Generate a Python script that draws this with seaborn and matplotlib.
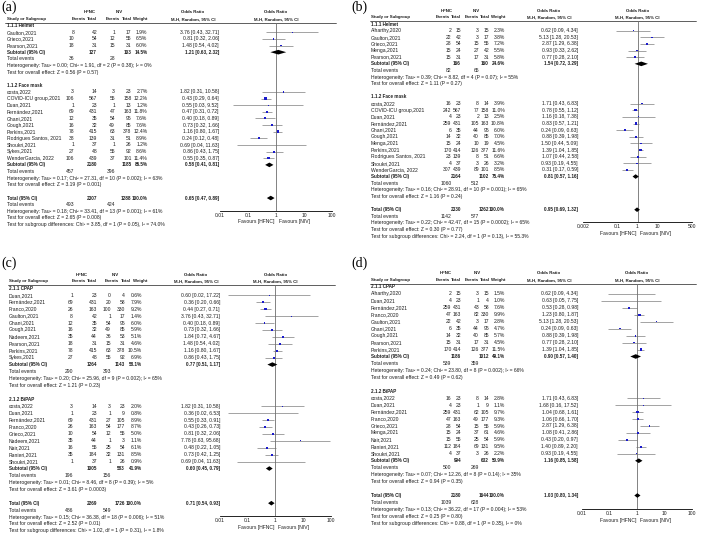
import matplotlib
matplotlib.use("Agg")
import matplotlib.pyplot as plt
import numpy as np
import pandas as pd
import seaborn as sns
from matplotlib.ticker import NullLocator

# ---------------- panel (a) ----------------
a_study = ["Gaulton,2021", "Grieco,2021", "Pearson,2021", "costa,2022", "COVID-ICU group,2021",
           "Duan,2021", "Fernández,2021", "Ghani,2021", "Gough,2021", "Perkins,2021",
           "Rodrigues Santos, 2021", "Shoukri,2021", "Sykes,2021", "WenderGarcia, 2022"]
a_group = ["1.1.1 Helmet"] * 3 + ["1.1.2 Face mask"] * 11
a_hfnc_ev = [8, 10, 18, 3, 106, 1, 69, 12, 16, 78, 38, 1, 27, 106]
a_hfnc_n = [42, 54, 31, 14, 567, 23, 431, 35, 32, 415, 139, 37, 48, 439]
a_niv_ev = [1, 12, 15, 3, 55, 1, 47, 54, 49, 63, 31, 1, 55, 37]
a_niv_n = [17, 55, 31, 23, 158, 13, 163, 95, 85, 378, 51, 26, 92, 101]
a_weight = [1.9, 6.5, 6.0, 2.7, 12.2, 1.2, 11.8, 7.6, 7.6, 12.4, 8.9, 1.2, 8.6, 11.4]
a_or = [3.76, 0.81, 1.48, 1.82, 0.43, 0.55, 0.47, 0.40, 0.73, 1.16, 0.24, 0.69, 0.86, 0.55]
a_lo = [0.43, 0.32, 0.54, 0.31, 0.29, 0.03, 0.31, 0.18, 0.32, 0.80, 0.12, 0.04, 0.43, 0.35]
a_hi = [32.71, 2.06, 4.02, 10.58, 0.64, 9.52, 0.72, 0.89, 1.66, 1.67, 0.48, 11.63, 1.75, 0.87]
a_sub_label = ["1.1.1 Helmet", "1.1.2 Face mask"]
a_sub_n = [(127, 103), (2180, 1185)]
a_sub_ev = [(36, 28), (457, 396)]
a_sub_weight = [14.5, 85.5]
a_sub_or = [(1.21, 0.63, 2.32), (0.58, 0.41, 0.81)]
a_sub_het = ["Heterogeneity: Tau² = 0.00; Chi² = 1.91, df = 2 (P = 0.38); I² = 0%",
             "Heterogeneity: Tau² = 0.17; Chi² = 27.31, df = 10 (P = 0.002); I² = 63%"]
a_sub_z = ["Test for overall effect: Z = 0.56 (P = 0.57)",
           "Test for overall effect: Z = 3.19 (P = 0.001)"]
a_tot_n = (2307, 1288)
a_tot_ev = (493, 424)
a_tot_or = (0.65, 0.47, 0.89)
a_tot_text = ["Heterogeneity: Tau² = 0.18; Chi² = 33.41, df = 13 (P = 0.001); I² = 61%",
              "Test for overall effect: Z = 2.65 (P = 0.008)",
              "Test for subgroup differences: Chi² = 3.85, df = 1 (P = 0.05), I² = 74.0%"]

# ---------------- panel (b) ----------------
b_study = ["Alharthy,2020", "Gaulton,2021", "Grieco,2021", "Menga,2021", "Pearson,2021",
           "costa,2022", "COVID-ICU group,2021", "Duan,2021", "Fernández,2021", "Ghani,2021",
           "Gough,2021", "Menga,2021", "Perkins,2021", "Rodrigues Santos, 2021", "Shoukri,2021",
           "WenderGarcia, 2022"]
b_group = ["1.1.1 Helmet"] * 5 + ["1.1.2 Face mask"] * 11
b_hfnc_ev = [2, 22, 28, 15, 15, 16, 242, 4, 259, 6, 14, 15, 170, 23, 4, 307]
b_hfnc_n = [15, 42, 54, 24, 31, 23, 567, 23, 431, 35, 32, 24, 414, 139, 37, 439]
b_niv_ev = [3, 3, 15, 27, 17, 8, 77, 2, 105, 44, 40, 10, 126, 8, 3, 89]
b_niv_n = [15, 17, 55, 42, 31, 14, 158, 13, 163, 95, 85, 19, 377, 51, 26, 101]
b_weight = [2.3, 3.8, 7.2, 5.5, 5.8, 3.9, 11.0, 2.5, 10.8, 6.0, 7.0, 4.5, 11.6, 6.6, 3.2, 8.5]
b_or = [0.62, 5.13, 2.87, 0.93, 0.77, 1.71, 0.78, 1.16, 0.83, 0.24, 0.88, 1.50, 1.39, 1.07, 0.93, 0.31]
b_lo = [0.09, 1.28, 1.29, 0.33, 0.28, 0.43, 0.55, 0.18, 0.57, 0.09, 0.39, 0.44, 1.04, 0.44, 0.19, 0.17]
b_hi = [4.34, 20.53, 6.38, 2.62, 2.10, 6.83, 1.12, 7.38, 1.21, 0.63, 1.98, 5.09, 1.85, 2.58, 4.55, 0.59]
b_sub_label = ["1.1.1 Helmet", "1.1.2 Face mask"]
b_sub_n = [(166, 160), (2164, 1102)]
b_sub_ev = [(82, 65), (1060, 512)]
b_sub_weight = [24.6, 75.4]
b_sub_or = [(1.54, 0.72, 3.29), (0.81, 0.57, 1.16)]
b_sub_het = ["Heterogeneity: Tau² = 0.39; Chi² = 8.82, df = 4 (P = 0.07); I² = 55%",
             "Heterogeneity: Tau² = 0.16; Chi² = 28.91, df = 10 (P = 0.001); I² = 65%"]
b_sub_z = ["Test for overall effect: Z = 1.11 (P = 0.27)",
           "Test for overall effect: Z = 1.16 (P = 0.24)"]
b_tot_n = (2330, 1262)
b_tot_ev = (1142, 577)
b_tot_or = (0.95, 0.69, 1.32)
b_tot_text = ["Heterogeneity: Tau² = 0.22; Chi² = 42.47, df = 15 (P = 0.0002); I² = 65%",
              "Test for overall effect: Z = 0.30 (P = 0.77)",
              "Test for subgroup differences: Chi² = 2.24, df = 1 (P = 0.13), I² = 55.3%"]

# ---------------- panel (c) ----------------
c_study = ["Duan,2021", "Fernández,2021", "Franco,2020", "Gaulton,2021", "Ghani,2021",
           "Gough,2021", "Nadeem,2021", "Pearson,2021", "Perkins,2021", "Sykes,2021",
           "costa,2022", "Duan,2021", "Fernández,2021", "Franco,2020", "Grieco,2021",
           "Nadeem,2021", "Nair,2021", "Ranieri,2021", "Shoukri,2021"]
c_group = ["2.1.1 CPAP"] * 10 + ["2.1.2 BiPAP"] * 9
c_hfnc_ev = [1, 69, 26, 8, 12, 16, 35, 18, 78, 27, 3, 1, 69, 26, 10, 35, 16, 35, 1]
c_hfnc_n = [23, 431, 163, 42, 35, 32, 44, 31, 415, 48, 14, 23, 431, 163, 54, 44, 55, 184, 37]
c_niv_ev = [0, 20, 100, 1, 54, 49, 36, 15, 63, 55, 3, 1, 27, 54, 12, 1, 25, 32, 1]
c_niv_n = [4, 58, 330, 17, 95, 85, 53, 31, 378, 92, 23, 9, 105, 177, 55, 3, 54, 131, 26]
c_weight = [0.6, 7.9, 9.2, 1.4, 6.0, 5.9, 5.1, 4.6, 10.5, 6.9, 2.0, 0.8, 8.9, 8.7, 5.0, 1.1, 6.1, 8.5, 0.9]
c_or = [0.60, 0.36, 0.44, 3.76, 0.40, 0.73, 1.84, 1.48, 1.16, 0.86,
        1.82, 0.36, 0.55, 0.43, 0.81, 7.78, 0.48, 0.73, 0.69]
c_lo = [0.02, 0.20, 0.27, 0.43, 0.18, 0.32, 0.72, 0.54, 0.80, 0.43,
        0.31, 0.02, 0.33, 0.26, 0.32, 0.63, 0.22, 0.42, 0.04]
c_hi = [17.22, 0.66, 0.71, 32.71, 0.89, 1.66, 4.67, 4.02, 1.67, 1.75,
        10.58, 6.53, 0.91, 0.73, 2.06, 95.68, 1.05, 1.25, 11.63]
c_sub_label = ["2.1.1 CPAP", "2.1.2 BiPAP"]
c_sub_n = [(1264, 1143), (1005, 583)]
c_sub_ev = [(290, 393), (196, 156)]
c_sub_weight = [58.1, 41.9]
c_sub_or = [(0.77, 0.51, 1.17), (0.60, 0.45, 0.79)]
c_sub_het = ["Heterogeneity: Tau² = 0.20; Chi² = 25.96, df = 9 (P = 0.002); I² = 65%",
             "Heterogeneity: Tau² = 0.01; Chi² = 8.46, df = 8 (P = 0.39); I² = 5%"]
c_sub_z = ["Test for overall effect: Z = 1.21 (P = 0.23)",
           "Test for overall effect: Z = 3.61 (P = 0.0003)"]
c_tot_n = (2269, 1726)
c_tot_ev = (486, 549)
c_tot_or = (0.71, 0.54, 0.93)
c_tot_text = ["Heterogeneity: Tau² = 0.15; Chi² = 36.38, df = 18 (P = 0.006); I² = 51%",
              "Test for overall effect: Z = 2.52 (P = 0.01)",
              "Test for subgroup differences: Chi² = 1.02, df = 1 (P = 0.31), I² = 1.8%"]

# ---------------- panel (d) ----------------
d_study = ["Alharthy,2020", "Duan,2021", "Fernández,2021", "Franco,2020", "Gaulton,2021",
           "Ghani,2021", "Gough,2021", "Pearson,2021", "Perkins,2021", "costa,2022",
           "Duan,2021", "Fernández,2021", "Franco,2020", "Grieco,2021", "Menga,2021",
           "Nair,2021", "Ranieri,2021", "Shoukri,2021"]
d_group = ["2.1.1 CPAP"] * 9 + ["2.1.2 BiPAP"] * 9
d_hfnc_ev = [2, 4, 259, 47, 22, 6, 14, 15, 170, 16, 4, 259, 47, 28, 15, 15, 112, 4]
d_hfnc_n = [15, 23, 431, 163, 42, 35, 32, 31, 414, 23, 23, 431, 163, 54, 24, 55, 184, 37]
d_niv_ev = [3, 1, 43, 82, 3, 44, 40, 17, 126, 8, 1, 62, 49, 15, 37, 25, 69, 3]
d_niv_n = [15, 4, 58, 330, 17, 95, 85, 31, 377, 14, 9, 105, 177, 55, 61, 54, 131, 26]
d_weight = [1.5, 1.0, 7.6, 9.9, 2.8, 4.7, 5.7, 4.5, 11.5, 2.8, 1.1, 9.7, 9.3, 5.9, 4.6, 5.9, 9.5, 2.2]
d_or = [0.62, 0.63, 0.53, 1.23, 5.13, 0.24, 0.88, 0.77, 1.39,
        1.71, 1.68, 1.04, 1.06, 2.87, 1.08, 0.43, 1.40, 0.93]
d_lo = [0.09, 0.05, 0.28, 0.80, 1.28, 0.09, 0.39, 0.28, 1.04,
        0.43, 0.16, 0.68, 0.66, 1.29, 0.41, 0.20, 0.89, 0.19]
d_hi = [4.34, 7.75, 0.98, 1.87, 20.53, 0.63, 1.98, 2.10, 1.85,
        6.83, 17.52, 1.61, 1.70, 6.38, 2.86, 0.97, 2.20, 4.55]
d_sub_label = ["2.1.1 CPAP", "2.1.2 BiPAP"]
d_sub_n = [(1186, 1012), (994, 632)]
d_sub_ev = [(539, 359), (500, 269)]
d_sub_weight = [49.1, 50.9]
d_sub_or = [(0.90, 0.57, 1.40), (1.16, 0.85, 1.58)]
d_sub_het = ["Heterogeneity: Tau² = 0.24; Chi² = 23.80, df = 8 (P = 0.002); I² = 66%",
             "Heterogeneity: Tau² = 0.07; Chi² = 12.26, df = 8 (P = 0.14); I² = 35%"]
d_sub_z = ["Test for overall effect: Z = 0.49 (P = 0.62)",
           "Test for overall effect: Z = 0.94 (P = 0.35)"]
d_tot_n = (2180, 1644)
d_tot_ev = (1039, 628)
d_tot_or = (1.03, 0.80, 1.34)
d_tot_text = ["Heterogeneity: Tau² = 0.13; Chi² = 36.22, df = 17 (P = 0.004); I² = 53%",
              "Test for overall effect: Z = 0.25 (P = 0.80)",
              "Test for subgroup differences: Chi² = 0.88, df = 1 (P = 0.35), I² = 0%"]

W, H = 701, 538
FS = 3.6      # body text
FSB = 3.35    # bold rows (subgroups, subtotals, totals)
FSH = 3.15    # column headers
TXT = "#1e1e1e"
SQUARE = "#1a1acc"


def ci_text(est, lo, hi):
    return f"{est:.2f} [{lo:.2f}, {hi:.2f}]"


def draw_panel(fig, bg, letter, studies, subs, total, lay):
    y0, dy = lay["y0"], lay["dy"]
    ry = lambda r: y0 + r * dy
    nx = lay["name_x"]
    cols = lay["num_right"]
    fx0, fx1 = lay["forest"]
    xlo, xhi = lay["xlim"]
    fc = fx0 + (fx1 - fx0) * (0 - np.log10(xlo)) / (np.log10(xhi) - np.log10(xlo))

    def t(x, y, s, ha="left", bold=False, size=None):
        if size is None:
            size = FSB if bold else FS
        bg.text(x, y, s, ha=ha, va="center", fontsize=size, color=TXT,
                weight="bold" if bold else "normal")

    def h(x, y, s, ha="center"):
        t(x, y, s, ha=ha, bold=True, size=FSH)

    bg.text(lay["label"][0], lay["label"][1], letter, family="Liberation Serif",
            fontsize=10, ha="left", va="center", color="black")

    # header
    for name, cx in zip(["HFNC", "NIV"], lay["grp_center"]):
        h(cx, ry(0), name)
    h(lay["ci_center"], ry(0), "Odds Ratio")
    h(fc, ry(0), "Odds Ratio")
    h(nx, ry(1), "Study or Subgroup", ha="left")
    for name, x in zip(["Events", "Total", "Events", "Total", "Weight"], lay["hdr_right"]):
        h(x, ry(1), name, ha="right")
    h(lay["ci_center"], ry(1), "M-H, Random, 95% CI")
    h(fc, ry(1), "M-H, Random, 95% CI")
    uy = ry(1) + 3.5
    bg.plot(lay["under"], [uy, uy], color=TXT, lw=0.5)

    sub_label, sub_n, sub_ev, sub_w, sub_or, sub_het, sub_z = subs
    tot_n, tot_ev, tot_or, tot_text = total

    r = 2
    study_y = []
    diamonds = []
    for gi, g in enumerate(sub_label):
        t(nx, ry(r), g, bold=True)
        r += 1
        for _, s in studies[studies["group"] == g].iterrows():
            y = ry(r)
            t(nx, y, s["study"])
            vals = [s["hfnc_ev"], s["hfnc_n"], s["niv_ev"], s["niv_n"], f"{s['weight']:.1f}%"]
            for v, x in zip(vals, cols):
                t(x, y, str(v), ha="right")
            t(lay["ci_right"], y, ci_text(s["or"], s["lo"], s["hi"]), ha="right")
            study_y.append(y)
            r += 1
        y = ry(r)
        t(nx, y, "Subtotal (95% CI)", bold=True)
        t(cols[1], y, str(sub_n[gi][0]), ha="right", bold=True)
        t(cols[3], y, str(sub_n[gi][1]), ha="right", bold=True)
        t(cols[4], y, f"{sub_w[gi]:.1f}%", ha="right", bold=True)
        t(lay["ci_right"], y, ci_text(*sub_or[gi]), ha="right", bold=True)
        diamonds.append((y,) + tuple(sub_or[gi]))
        r += 1
        t(nx, ry(r), "Total events")
        t(cols[0], ry(r), str(sub_ev[gi][0]), ha="right")
        t(cols[2], ry(r), str(sub_ev[gi][1]), ha="right")
        r += 1
        t(nx, ry(r), sub_het[gi])
        r += 1
        t(nx, ry(r), sub_z[gi])
        r += 2

    total_row = r
    y = ry(r)
    t(nx, y, "Total (95% CI)", bold=True)
    t(cols[1], y, str(tot_n[0]), ha="right", bold=True)
    t(cols[3], y, str(tot_n[1]), ha="right", bold=True)
    t(cols[4], y, "100.0%", ha="right", bold=True)
    t(lay["ci_right"], y, ci_text(*tot_or), ha="right", bold=True)
    diamonds.append((y,) + tuple(tot_or))
    r += 1
    t(nx, ry(r), "Total events")
    t(cols[0], ry(r), str(tot_ev[0]), ha="right")
    t(cols[2], ry(r), str(tot_ev[1]), ha="right")
    for line in tot_text:
        r += 1
        t(nx, ry(r), line)

    # forest plot
    ybot = ry(total_row + 1.9)
    ax = fig.add_axes([fx0 / W, 1 - ybot / H, (fx1 - fx0) / W, (ybot - uy) / H])
    ax.set_xscale("log")
    ax.set_xlim(xlo, xhi)
    ax.set_ylim(ybot, uy)
    ax.patch.set_alpha(0)
    ax.axvline(1, color="#6e6e6e", lw=0.6, zorder=1)

    df = studies.copy()
    df["y"] = study_y
    ax.hlines(df["y"], df["lo"], df["hi"], color="#707070", lw=0.45, zorder=2)
    sns.scatterplot(data=df, x="or", y="y", size="weight", sizes=(0.0, 3.6),
                    size_norm=(0, 13), marker="s", color=SQUARE, linewidth=0,
                    legend=False, ax=ax, zorder=3)
    hh = 2.3
    for (yd, est, lo, hi) in diamonds:
        ax.fill([lo, est, hi, est], [yd, yd - hh, yd, yd + hh], color="black", lw=0, zorder=4)

    for side in ["top", "right", "left"]:
        ax.spines[side].set_visible(False)
    ax.spines["bottom"].set_color("black")
    ax.spines["bottom"].set_linewidth(0.6)
    ax.set_xticks(lay["ticks"])
    ax.set_xticklabels(lay["tick_labels"])
    ax.xaxis.set_minor_locator(NullLocator())
    ax.tick_params(axis="x", direction="in", length=2, width=0.5, labelsize=FS,
                   pad=1.5, colors="black", labelcolor=TXT)
    ax.set_yticks([])
    ax.set_xlabel("")
    ax.set_ylabel("")

    fy = ybot + 11.3
    t(fc - 1, fy, "Favours [HFNC]", ha="right")
    t(fc + 3, fy, "Favours [NIV]", ha="left")


def make_studies(study, group, hfnc_ev, hfnc_n, niv_ev, niv_n, weight, est, lo, hi):
    return pd.DataFrame({"study": study, "group": group, "hfnc_ev": hfnc_ev, "hfnc_n": hfnc_n,
                         "niv_ev": niv_ev, "niv_n": niv_n, "weight": weight,
                         "or": est, "lo": lo, "hi": hi})


sns.set_theme(style="white")
plt.rcParams["font.family"] = ["Liberation Sans", "DejaVu Sans"]

fig = plt.figure(figsize=(W / 100, H / 100), dpi=100)
fig.patch.set_facecolor("white")
bg = fig.add_axes([0, 0, 1, 1])
bg.set_xlim(0, W)
bg.set_ylim(H, 0)
bg.axis("off")

dec = [0.01, 0.1, 1, 10, 100]
dec_lab = ["0.01", "0.1", "1", "10", "100"]

lay_a = dict(y0=12.4, dy=6.63, name_x=7, num_right=[74, 97, 115, 131.5, 147.5],
             hdr_right=[86, 97, 120, 132, 147.5], grp_center=[90, 119], ci_right=219,
             ci_center=193, forest=(220, 332), under=(5, 336), label=(1, 7.5),
             xlim=(0.01, 100), ticks=dec, tick_labels=dec_lab)
lay_b = dict(y0=10.8, dy=6.63, name_x=371, num_right=[451.5, 461, 479, 489, 505],
             hdr_right=[449.5, 461, 479, 490, 505], grp_center=[447, 476], ci_right=578,
             ci_center=549, forest=(583, 692), under=(370, 696), label=(351, 7),
             xlim=(0.002, 500), ticks=[0.002, 0.1, 1, 10, 500],
             tick_labels=["0.002", "0.1", "1", "10", "500"])
lay_c = dict(y0=274.5, dy=6.93, name_x=9, num_right=[73, 97, 111, 125, 142],
             hdr_right=[86, 97, 119, 131, 147], grp_center=[82, 115], ci_right=220,
             ci_center=196, forest=(220, 331), under=(8, 335), label=(1, 263),
             xlim=(0.01, 100), ticks=dec, tick_labels=dec_lab)
lay_d = dict(y0=273.1, dy=6.95, name_x=371, num_right=[451.5, 461, 479, 489, 505],
             hdr_right=[449.5, 461, 479, 490, 505], grp_center=[446, 477], ci_right=578,
             ci_center=549, forest=(582, 692), under=(370, 696), label=(351, 263),
             xlim=(0.01, 100), ticks=dec, tick_labels=dec_lab)

draw_panel(fig, bg, "(a)",
           make_studies(a_study, a_group, a_hfnc_ev, a_hfnc_n, a_niv_ev, a_niv_n, a_weight, a_or, a_lo, a_hi),
           (a_sub_label, a_sub_n, a_sub_ev, a_sub_weight, a_sub_or, a_sub_het, a_sub_z),
           (a_tot_n, a_tot_ev, a_tot_or, a_tot_text), lay_a)
draw_panel(fig, bg, "(b)",
           make_studies(b_study, b_group, b_hfnc_ev, b_hfnc_n, b_niv_ev, b_niv_n, b_weight, b_or, b_lo, b_hi),
           (b_sub_label, b_sub_n, b_sub_ev, b_sub_weight, b_sub_or, b_sub_het, b_sub_z),
           (b_tot_n, b_tot_ev, b_tot_or, b_tot_text), lay_b)
draw_panel(fig, bg, "(c)",
           make_studies(c_study, c_group, c_hfnc_ev, c_hfnc_n, c_niv_ev, c_niv_n, c_weight, c_or, c_lo, c_hi),
           (c_sub_label, c_sub_n, c_sub_ev, c_sub_weight, c_sub_or, c_sub_het, c_sub_z),
           (c_tot_n, c_tot_ev, c_tot_or, c_tot_text), lay_c)
draw_panel(fig, bg, "(d)",
           make_studies(d_study, d_group, d_hfnc_ev, d_hfnc_n, d_niv_ev, d_niv_n, d_weight, d_or, d_lo, d_hi),
           (d_sub_label, d_sub_n, d_sub_ev, d_sub_weight, d_sub_or, d_sub_het, d_sub_z),
           (d_tot_n, d_tot_ev, d_tot_or, d_tot_text), lay_d)

fig.savefig("out.png", dpi=100, facecolor="white")
